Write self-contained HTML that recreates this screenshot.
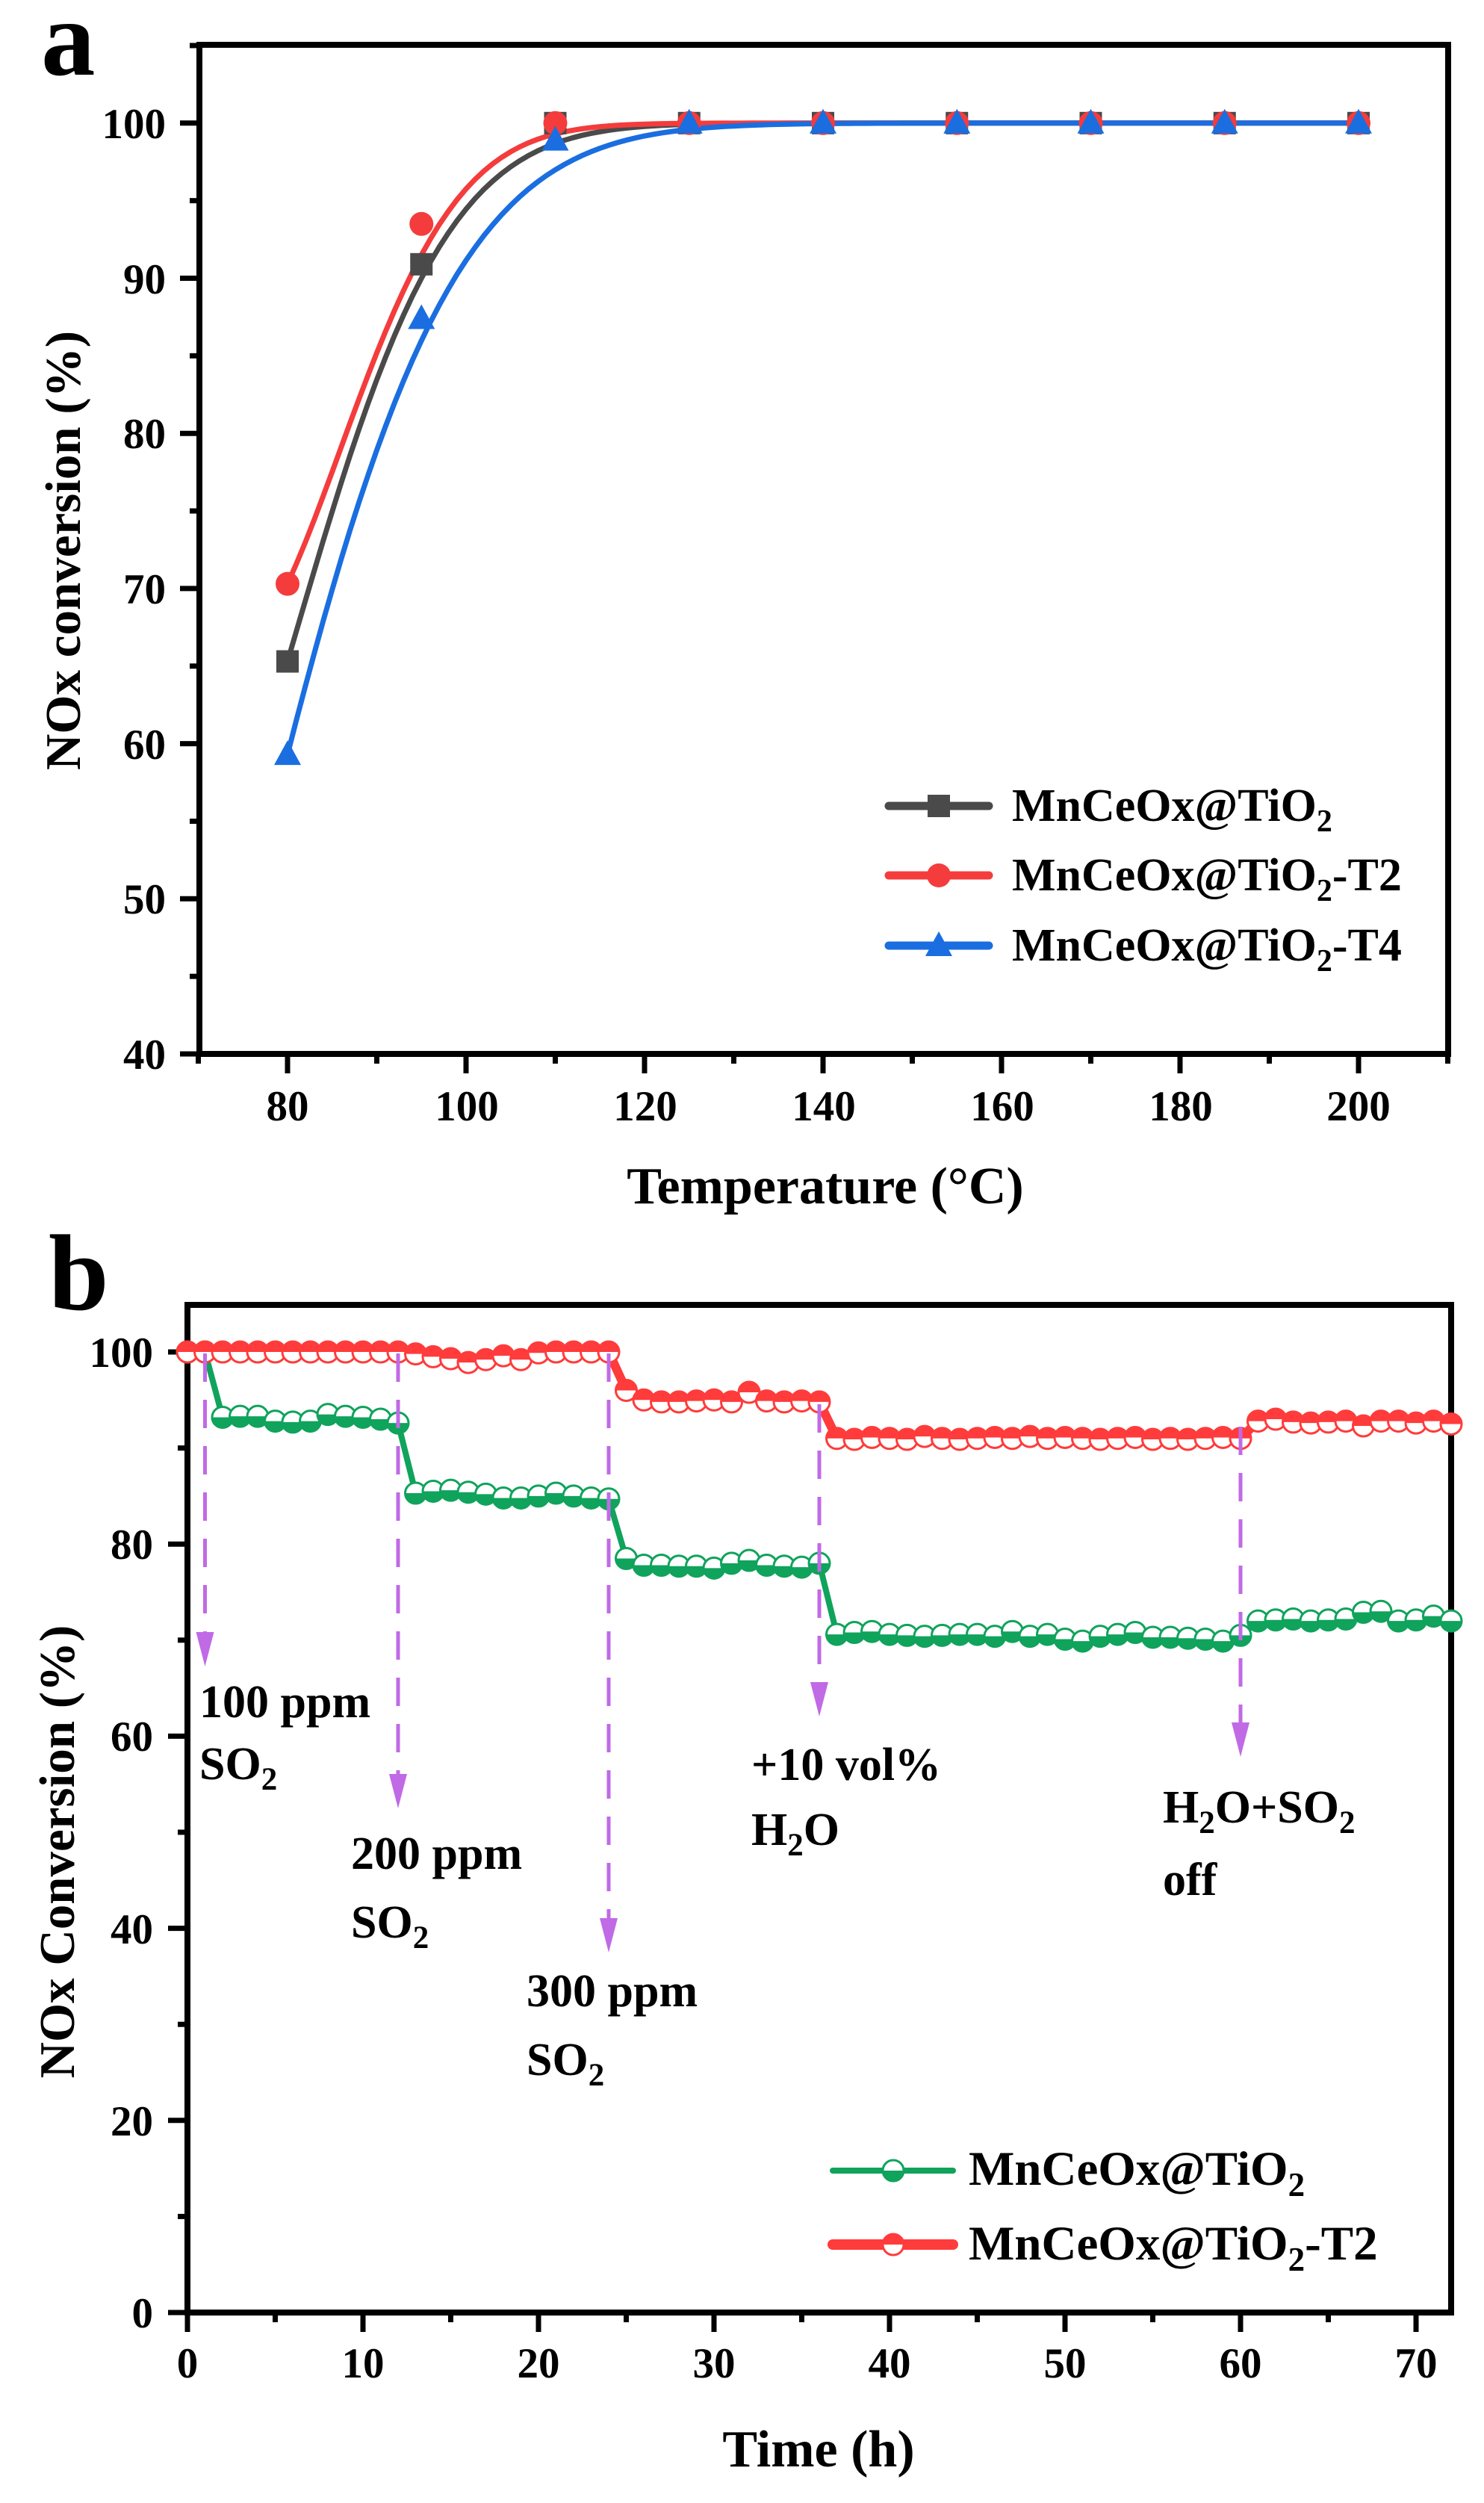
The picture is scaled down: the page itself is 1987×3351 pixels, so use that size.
<!DOCTYPE html>
<html><head><meta charset="utf-8"><style>
html,body{margin:0;padding:0;background:#fff}
svg{display:block}
text{font-family:"Liberation Serif",serif;font-weight:bold;fill:#000}
</style></head><body>
<svg id="s" width="1987" height="3351" viewBox="0 0 1987 3351" xmlns="http://www.w3.org/2000/svg">
<rect width="1987" height="3351" fill="#fff"/>
<text x="55" y="100" font-size="145">a</text>
<text x="65" y="1753" font-size="145">b</text>
<g id="A"></g>
<g id="B"></g>
<g font-size="57" text-anchor="middle">
<text x="385" y="1500">80</text><text x="625" y="1500">100</text><text x="864" y="1500">120</text><text x="1103" y="1500">140</text><text x="1342" y="1500">160</text><text x="1581" y="1500">180</text><text x="1819" y="1500">200</text>
</g>
<g font-size="57" text-anchor="end">
<text x="222" y="185">100</text><text x="222" y="393">90</text><text x="222" y="600">80</text><text x="222" y="808">70</text><text x="222" y="1016">60</text><text x="222" y="1223">50</text><text x="222" y="1431">40</text>
</g>
<text x="1105" y="1611" font-size="70" text-anchor="middle">Temperature (°C)</text>
<text transform="translate(107,737) rotate(-90)" font-size="67" text-anchor="middle">NOx conversion (%)</text>
<g font-size="62">
<text x="1355" y="1099">MnCeOx@TiO<tspan dy="14" font-size="42">2</tspan></text>
<text x="1355" y="1192">MnCeOx@TiO<tspan dy="14" font-size="42">2</tspan><tspan dy="-14">-T2</tspan></text>
<text x="1355" y="1286">MnCeOx@TiO<tspan dy="14" font-size="42">2</tspan><tspan dy="-14">-T4</tspan></text>
</g>
<g font-size="57" text-anchor="middle">
<text x="251" y="3183">0</text><text x="486" y="3183">10</text><text x="721" y="3183">20</text><text x="956" y="3183">30</text><text x="1191" y="3183">40</text><text x="1426" y="3183">50</text><text x="1661" y="3183">60</text><text x="1896" y="3183">70</text>
</g>
<g font-size="57" text-anchor="end">
<text x="205" y="1830">100</text><text x="205" y="2087">80</text><text x="205" y="2344">60</text><text x="205" y="2602">40</text><text x="205" y="2859">20</text><text x="205" y="3116">0</text>
</g>
<text x="1096" y="3302" font-size="70" text-anchor="middle">Time (h)</text>
<text transform="translate(99,2479) rotate(-90)" font-size="67" text-anchor="middle">NOx Conversion (%)</text>
<g font-size="62">
<text x="267" y="2299">100 ppm</text><text x="267" y="2382">SO<tspan dy="14" font-size="43">2</tspan></text>
<text x="470" y="2502">200 ppm</text><text x="470" y="2594">SO<tspan dy="14" font-size="43">2</tspan></text>
<text x="705" y="2686">300 ppm</text><text x="705" y="2778">SO<tspan dy="14" font-size="43">2</tspan></text>
<text x="1006" y="2383">+10 vol%</text><text x="1006" y="2470">H<tspan dy="14" font-size="43">2</tspan><tspan dy="-14">O</tspan></text>
<text x="1557" y="2440">H<tspan dy="14" font-size="43">2</tspan><tspan dy="-14">O+SO</tspan><tspan dy="14" font-size="43">2</tspan></text><text x="1557" y="2537">off</text>
</g>
<g font-size="65">
<text x="1297" y="2925">MnCeOx@TiO<tspan dy="15" font-size="45">2</tspan></text>
<text x="1297" y="3025">MnCeOx@TiO<tspan dy="15" font-size="45">2</tspan><tspan dy="-15">-T2</tspan></text>
</g>
</svg>
<script>
(function(){
var NS="http://www.w3.org/2000/svg";
function el(p,t,a){var e=document.createElementNS(NS,t);for(var k in a)e.setAttribute(k,a[k]);p.appendChild(e);return e;}
var A=document.getElementById("A"),B=document.getElementById("B");
var L=267,R=1939,T=60,Bt=1411;
function xa(v){return 385+(v-80)*239/20;}
function ya(v){return 1411-(v-40)*207.7/10;}
el(A,"rect",{x:L,y:T,width:R-L,height:Bt-T,fill:"none",stroke:"#000","stroke-width":8});
for(var v=70;v<=210;v+=10){var maj=(v%20==0);el(A,"line",{x1:xa(v),x2:xa(v),y1:Bt,y2:Bt+(maj?26:13),stroke:"#000","stroke-width":7});}
for(var v=40;v<=105;v+=5){var maj=(v%10==0);el(A,"line",{x1:L,x2:L-(maj?26:13),y1:ya(v),y2:ya(v),stroke:"#000","stroke-width":7});}
var ser=[
 {c:"#4a4a4a",y0:65.3,a:0.0565,b:0.00176,pts:[65.3,90.9,100,100,100,100,100,100,100],m:"s"},
 {c:"#f43c3c",y0:70.3,a:0.0419,b:0.00277,pts:[70.3,93.5,100,100,100,100,100,100,100],m:"c"},
 {c:"#1a6ee0",y0:59.3,a:0.0553,b:0.00105,pts:[59.3,87.4,98.9,100,100,100,100,100,100],m:"t"}];
ser.forEach(function(s){
 var d="";for(var x=80;x<=200;x+=1){var t=x-80;var y=100-(100-s.y0)*Math.exp(-s.a*t-s.b*t*t);d+=(x==80?"M":"L")+xa(x).toFixed(1)+","+ya(y).toFixed(1);}
 el(A,"path",{d:d,fill:"none",stroke:s.c,"stroke-width":7});
});
function mk(g,m,x,y,c){
 if(m=="s")el(g,"rect",{x:x-15,y:y-15,width:30,height:30,fill:c});
 else if(m=="c")el(g,"circle",{cx:x,cy:y,r:16,fill:c});
 else el(g,"path",{d:"M"+x+","+(y-19)+"L"+(x+18)+","+(y+14)+"L"+(x-18)+","+(y+14)+"Z",fill:c});
}
ser.forEach(function(s){s.pts.forEach(function(p,i){mk(A,s.m,xa(80+15*i),ya(p),s.c);});});
[[1079,0],[1172,1],[1266,2]].forEach(function(r){var s=ser[r[1]];
 el(A,"line",{x1:1190,x2:1324,y1:r[0],y2:r[0],stroke:s.c,"stroke-width":11,"stroke-linecap":"round"});
 mk(A,s.m,1257,r[0],s.c);});
var bl=251,br=1943,bt=1747,bb=3096;
function xb(t){return 251+t*23.5;}
function yb(v){return 3096-v*12.86;}
el(B,"rect",{x:bl,y:bt,width:br-bl,height:bb-bt,fill:"none",stroke:"#000","stroke-width":8});
for(var t=0;t<=70;t+=5){var maj=(t%10==0);el(B,"line",{x1:xb(t),x2:xb(t),y1:bb,y2:bb+(maj?26:13),stroke:"#000","stroke-width":7});}
for(var v=0;v<=100;v+=10){var maj=(v%20==0);el(B,"line",{x1:bl,x2:bl-(maj?26:13),y1:yb(v),y2:yb(v),stroke:"#000","stroke-width":7});}
var G=[100,100,93.2,93.3,93.3,92.8,92.7,92.8,93.5,93.3,93.2,93.0,92.6,
85.3,85.5,85.6,85.4,85.2,84.8,84.8,85.0,85.3,85.0,84.8,84.7,
78.5,77.8,77.8,77.7,77.7,77.5,78.0,78.3,77.8,77.7,77.6,78.0,
70.6,70.8,70.9,70.6,70.5,70.4,70.5,70.6,70.6,70.4,70.9,70.4,70.6,70.1,69.9,70.4,70.6,70.8,70.3,70.3,70.2,70.1,69.9,70.5,
72.0,72.1,72.2,72.0,72.1,72.2,72.9,73.0,72.0,72.1,72.5,72.0];
var Rd=[100,100,100,100,100,100,100,100,100,100,100,100,100,
99.8,99.5,99.3,98.9,99.2,99.6,99.2,99.9,100,100,100,100,
96,95,94.8,94.8,94.9,95,94.8,95.8,94.9,94.8,94.9,94.8,
91,90.9,91.1,91,90.9,91.2,91,90.9,91,91.1,91,91.2,91,91.1,91,90.9,91,91.1,90.9,91,90.9,91,91.1,91,
92.8,93.0,92.7,92.6,92.7,92.8,92.3,92.8,92.8,92.6,92.8,92.5];
var GC="#0fa35c",RC="#ff3b3b";
function line(arr,c,w){var d="";arr.forEach(function(v,i){d+=(i?"L":"M")+xb(i).toFixed(1)+","+yb(v).toFixed(1);});el(B,"path",{d:d,fill:"none",stroke:c,"stroke-width":w,"stroke-linejoin":"round"});}
var MR=14;
function half(x,y,c,top){
 el(B,"circle",{cx:x,cy:y,r:MR,fill:"#fff",stroke:c,"stroke-width":3});
 var d=top?("M"+(x-MR)+","+y+"A"+MR+","+MR+" 0 0 1 "+(x+MR)+","+y+"Z"):("M"+(x-MR)+","+y+"A"+MR+","+MR+" 0 0 0 "+(x+MR)+","+y+"Z");
 el(B,"path",{d:d,fill:c});
}
line(G,GC,8);G.forEach(function(v,i){half(xb(i),yb(v),GC,false);});
line(Rd,RC,12);Rd.forEach(function(v,i){half(xb(i),yb(v),RC,true);});
var PC="#c06ae6";
[[1,1812,2231],[12,1812,2421],[24,1812,2614],[36,1880,2298],[60,1910,2352]].forEach(function(a){
 var x=xb(a[0]);
 el(B,"line",{x1:x,x2:x,y1:a[1],y2:a[2]-40,stroke:PC,"stroke-width":5,"stroke-dasharray":"38,24"});
 el(B,"path",{d:"M"+(x-12)+","+(a[2]-46)+"L"+(x+12)+","+(a[2]-46)+"L"+x+","+a[2]+"Z",fill:PC});
});
[[2906,GC,8,false],[3005,RC,14,true]].forEach(function(r){
 el(B,"line",{x1:1115,x2:1276,y1:r[0],y2:r[0],stroke:r[1],"stroke-width":r[2],"stroke-linecap":"round"});
 half(1196,r[0],r[1],r[3]);
});
})();
</script>
</body></html>
